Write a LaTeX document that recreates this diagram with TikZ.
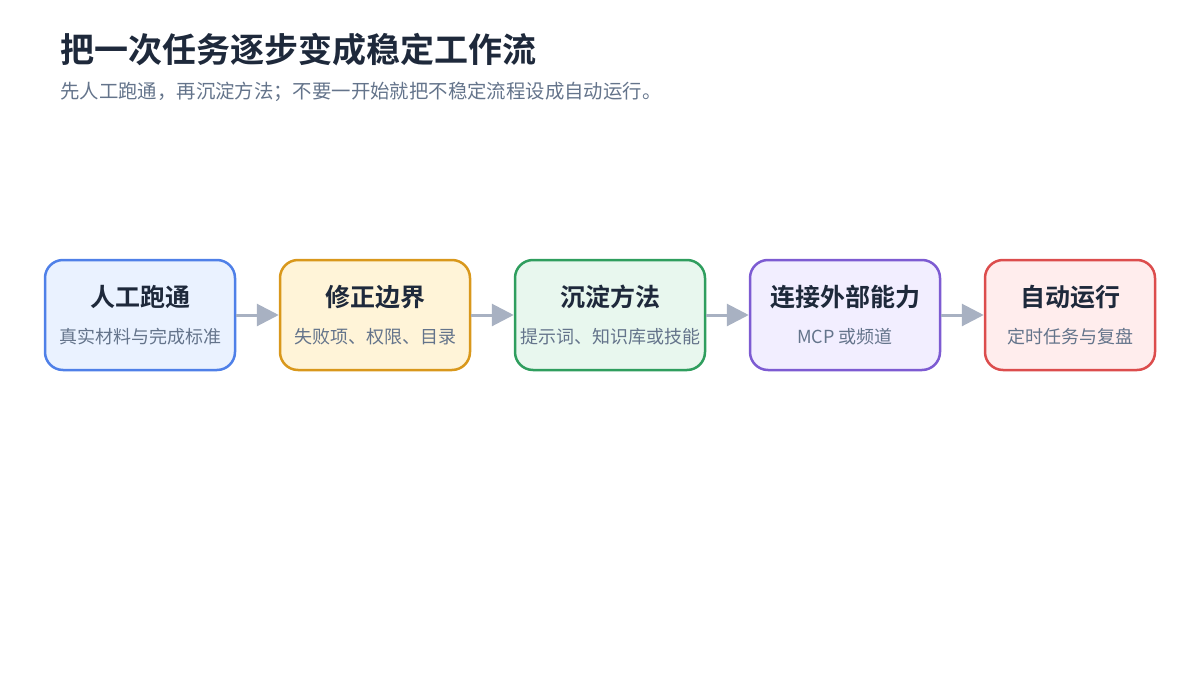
\documentclass[tikz,border=0pt]{standalone}
\usepackage{fontspec}
\setmainfont{Noto Sans CJK SC}[BoldFont={Noto Sans CJK SC Bold}]
\usetikzlibrary{arrows.meta}
\definecolor{titlec}{HTML}{1E293B}
\definecolor{subc}{HTML}{64748B}
\definecolor{arrc}{HTML}{A8B1C2}
\definecolor{bA}{HTML}{4F80E8}\definecolor{fA}{HTML}{EAF2FF}
\definecolor{bB}{HTML}{D9981C}\definecolor{fB}{HTML}{FFF4D8}
\definecolor{bC}{HTML}{2F9E5E}\definecolor{fC}{HTML}{E8F7EE}
\definecolor{bD}{HTML}{7D5BD2}\definecolor{fD}{HTML}{F2EEFF}
\definecolor{bE}{HTML}{DC4D4D}\definecolor{fE}{HTML}{FFEDED}
\tikzset{
  stepbox/.style={draw, line width=2.5pt, rounded corners=18pt, minimum height=110pt, inner sep=0pt},
  boxtitle/.style={font=\bfseries\fontsize{25}{29}\selectfont, text=titlec, inner sep=0pt},
  boxsub/.style={font=\fontsize{18}{22}\selectfont, text=subc, inner sep=0pt},
  flow/.style={draw=arrc, line width=3pt, -{Triangle[length=22pt,width=22pt]}},
}
\begin{document}
\begin{tikzpicture}[x=1pt,y=-1pt]
\useasboundingbox (0,0) rectangle (1200,680);
\node[anchor=base west, inner sep=0pt, font=\bfseries\fontsize{34}{40}\selectfont, text=titlec] (title) at (60,62) {把一次任务逐步变成稳定工作流};
\node[anchor=base west, inner sep=0pt, font=\fontsize{19.4}{24}\selectfont, text=subc] (subtitle) at (60,98) {先人工跑通，再沉淀方法；不要一开始就把不稳定流程设成自动运行。};
\node[stepbox, draw=bA, fill=fA, minimum width=190pt] (b1) at (140,315) {};
\node[stepbox, draw=bB, fill=fB, minimum width=190pt] (b2) at (375,315) {};
\node[stepbox, draw=bC, fill=fC, minimum width=190pt] (b3) at (610,315) {};
\node[stepbox, draw=bD, fill=fD, minimum width=190pt] (b4) at (845,315) {};
\node[stepbox, draw=bE, fill=fE, minimum width=170pt] (b5) at (1070,315) {};
\node[boxtitle] (t1) at (140,297) {人工跑通};
\node[boxsub] (s1) at (140,337) {真实材料与完成标准};
\node[boxtitle] (t2) at (375,297) {修正边界};
\node[boxsub] (s2) at (375,337) {失败项、权限、目录};
\node[boxtitle] (t3) at (610,297) {沉淀方法};
\node[boxsub] (s3) at (610,337) {提示词、知识库或技能};
\node[boxtitle] (t4) at (845,297) {连接外部能力};
\node[boxsub] (s4) at (845,337) {MCP 或频道};
\node[boxtitle] (t5) at (1070,297) {自动运行};
\node[boxsub] (s5) at (1070,337) {定时任务与复盘};
\draw[flow] (b1) -- (b2);
\draw[flow] (b2) -- (b3);
\draw[flow] (b3) -- (b4);
\draw[flow] (b4) -- (b5);
\end{tikzpicture}
\end{document}
